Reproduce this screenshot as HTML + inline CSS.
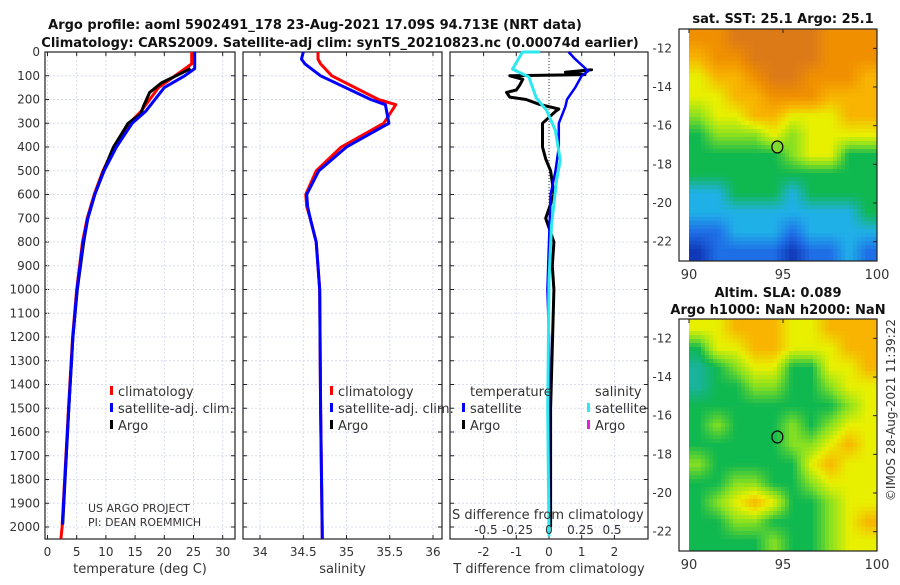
<!DOCTYPE html>
<html><head><meta charset="utf-8"><style>
body{margin:0;background:#fff}
svg text{font-family:"DejaVu Sans","Liberation Sans",sans-serif;fill:#333}
.b{font-weight:bold;fill:#111}
</style></head><body>
<svg id="s" width="900" height="580" xmlns="http://www.w3.org/2000/svg">
<text class="b" x="315" y="29" font-size="13" text-anchor="middle">Argo profile: aoml 5902491_178 23-Aug-2021 17.09S 94.713E (NRT data)</text>
<text class="b" x="340" y="47" font-size="13" text-anchor="middle">Climatology: CARS2009. Satellite-adj clim: synTS_20210823.nc (0.00074d earlier)</text>
<text class="b" x="783" y="23" font-size="13" text-anchor="middle">sat. SST: 25.1 Argo: 25.1</text>
<text class="b" x="778" y="297" font-size="13" text-anchor="middle">Altim. SLA: 0.089</text>
<text class="b" x="778" y="314" font-size="13" text-anchor="middle">Argo h1000: NaN h2000: NaN</text>
<text x="895" y="410" font-size="12" text-anchor="middle" transform="rotate(-90 895 410)">©IMOS 28-Aug-2021 11:39:22</text>
<g id="g"></g>
</svg>
<script>
// ---- data ----
const tempDepth=[0,50,80,150,250,300,400,500,600,700,800,1000,1200,1500,2000,2050];
const tempClim=[24.7,24.7,23,19,16,14,11.5,9.5,8,6.8,6,5,4.3,3.6,2.5,2.3];
const tempSatDepth=[0,70,100,150,250,300,400,500,600,700,800,1000,1200,1500,1990];
const tempSat=[25.2,25.2,23.5,20,16.8,14.5,11.8,9.7,8.1,6.9,6.1,5.05,4.35,3.65,2.55];
const tempArgoDepth=[70,100,130,170,230,260,300,400,500,600,700,800,1000,1200,1500,1990];
const tempArgo=[24.5,22,19.5,17.5,16.4,16,13.8,11.3,9.6,8.1,6.9,6.2,5.1,4.35,3.65,2.6];
const salDepth=[0,30,50,100,200,222,300,400,500,600,650,700,800,1000,1500,2050];
const salClim=[34.67,34.67,34.7,34.83,35.37,35.57,35.43,34.94,34.65,34.53,34.54,34.58,34.65,34.69,34.7,34.72];
const salSat=[34.5,34.48,34.52,34.7,35.28,35.45,35.49,35.0,34.68,34.54,34.55,34.58,34.65,34.69,34.7,34.72];
const dTDepth=[0,30,80,100,150,200,230,300,400,500,600,800,1000,1200,2000];
const dTSat=[0.6,0.8,1.2,1.0,0.8,0.55,0.5,0.3,0.3,0.2,0.05,0,-0.05,0,0];
const dTArgoDepth=[70,75,85,95,100,115,140,160,170,190,200,220,240,250,300,400,450,500,550,600,700,800,900,1000,1500,2000];
const dTArgo=[1.3,1.3,0.5,1.1,-1.2,-0.8,-0.9,-1.0,-1.3,-1.2,-0.7,-0.3,0.3,0.2,-0.2,-0.2,-0.1,0.05,0.1,0.15,-0.1,0.15,0.1,0.15,0.05,0.05];
const dSDepth=[0,0,72,105,194,245,329,456,540,730,962,1500,2040];
const dSSat=[-0.07,-0.21,-0.29,-0.16,-0.10,-0.02,0.05,0.09,0.06,0.02,0,-0.01,0];
const depthTicks=[0,100,200,300,400,500,600,700,800,900,1000,1100,1200,1300,1400,1500,1600,1700,1800,1900,2000];
const tTicks=[0,5,10,15,20,25,30];
const sTicks=[34,34.5,35,35.5,36];
const dTTicks=[-2,-1,0,1,2];
const dSTicks=[-0.5,-0.25,0,0.25,0.5];
const latTicks=[-12,-14,-16,-18,-20,-22];
const lonTicks=[90,95,100];
const sstGrid=[[7,7,8,8,8,8,8,7,7,7],[6,7,7,8,8,8,8,7,7,7],[5,6,6,7,8,8,7,7,7,6],[5,5,6,6,7,7,7,6,6,6],[4,5,5,6,6,5,5,5,6,6],[3,4,4,4,5,4,5,5,5,5],[3,3,3,3,3,4,5,5,3,3],[3,3,3,3,3,3,3,3,3,3],[2,2,3,3,3,2,3,3,3,3],[2,2,2,2,2,2,2,2,2,3],[1,1,2,2,2,1,2,2,2,2],[0,1,1,1,1,0,1,1,2,1]];
const slaGrid=[[5,5,6,6,6,5,5,6,6,6],[3,5,5,6,6,5,5,5,6,6],[2.5,3,4,5,5,3,3,5,5,6],[2.5,3,3,4,4,3,3,4,5,5],[3,3,3,3,3,3,3,3,4,5],[3,4,3,3,3,4,3,4,5,5],[3,3,3,3,3,4,4,5,6,5],[4,3,3,3,3,3,5,6,5,5],[3,3,4,4,3,3,4,5,5,5],[3,4,5,6,5,3,3,4,5,5],[3,3,4,4,3,3,3,4,5,6],[3,3,3,3,4,3,3,4,5,5]];
const floatLon=94.7, floatLat=-17.1;
// ---- drawing ----
const NS='http://www.w3.org/2000/svg',G=document.getElementById('g');
function el(t,a,p){const e=document.createElementNS(NS,t);for(const k in a)e.setAttribute(k,a[k]);(p||G).appendChild(e);return e;}
function txt(x,y,s,a,p){const e=el('text',Object.assign({x:x,y:y,'font-size':12},a||{}),p);e.textContent=s;return e;}
const yD=d=>52+d*0.2375;
function lin(d0,d1,r0,r1){return v=>r0+(v-d0)*(r1-r0)/(d1-d0);}
const panels=[
 {x0:45,x1:235,sx:lin(0,30,47.5,222.7),ticks:tTicks,label:'temperature (deg C)',name:'temperature'},
 {x0:243,x1:442,sx:lin(34,36,260,433),ticks:sTicks,label:'salinity',name:'salinity'},
 {x0:450,x1:648,sx:lin(0,1,549,581.7),ticks:dTTicks,label:'T difference from climatology',name:'difference'}];
const yBot=539;
panels.forEach((p,i)=>{
  const g=el('g',{});
  
  
  p.g=g;
  depthTicks.forEach(d=>{const l=el('line',{x1:p.x0,x2:p.x1,y1:yD(d),y2:yD(d),stroke:'#d8dcf0','stroke-dasharray':'2,2','stroke-width':1},g);
    
    el('line',{x1:p.x0,x2:p.x0+4,y1:yD(d),y2:yD(d),stroke:'#222'},g);el('line',{x1:p.x1-4,x2:p.x1,y1:yD(d),y2:yD(d),stroke:'#222'},g);
    if(i==0){const t=txt(40,yD(d)+4,String(d),{'text-anchor':'end'},g);}});
  p.ticks.forEach(v=>{const x=p.sx(v);
    const l=el('line',{x1:x,x2:x,y1:52,y2:yBot,stroke:'#d8dcf0','stroke-dasharray':'2,2'},g);
    
    el('line',{x1:x,x2:x,y1:yBot-4,y2:yBot,stroke:'#222'},g);el('line',{x1:x,x2:x,y1:52,y2:56,stroke:'#222'},g);
    const t=txt(x,556,String(v),{'text-anchor':'middle'},g);});
  const r=el('rect',{x:p.x0,y:52,width:p.x1-p.x0,height:yBot-52,fill:'none',stroke:'#222','stroke-width':1.2},g);
  
  const t=txt((p.x0+p.x1)/2,573,p.label,{'text-anchor':'middle','font-size':13},g);
  
});
function line(p,xs,ds,sx,col,w,name){
  const pts=xs.map((v,i)=>sx(v).toFixed(1)+','+yD(ds[i]).toFixed(1)).join(' ');
  const e=el('polyline',{points:pts,fill:'none',stroke:col,'stroke-width':w,'stroke-linejoin':'round'},p.g);
  }
const P=panels;
line(P[0],tempClim,tempDepth,P[0].sx,'#f00',3,'temp-climatology-line');
line(P[0],tempArgo,tempArgoDepth,P[0].sx,'#000',3,'temp-argo-line');
line(P[0],tempSat,tempSatDepth,P[0].sx,'#00f',3,'temp-satellite-line');
line(P[1],salClim,salDepth,P[1].sx,'#f00',3,'sal-climatology-line');
line(P[1],salSat,salDepth,P[1].sx,'#00f',3,'sal-satellite-line');
const sxS=lin(0,1,549,675);
el('line',{x1:549,x2:549,y1:52,y2:yBot,stroke:'#333','stroke-dasharray':'1,2'},P[2].g);
line(P[2],dTArgo,dTArgoDepth,P[2].sx,'#000',3,'dT-argo-line');
line(P[2],dTSat,dTDepth,P[2].sx,'#00f',2.5,'dT-satellite-line');
line(P[2],dSSat,dSDepth,sxS,'#2ee8f0',3,'dS-satellite-line');
dSTicks.forEach(v=>{const t=txt(sxS(v),534,String(v),{'text-anchor':'middle'},P[2].g);});
{const t=txt(452,519,'S difference from climatology',{'font-size':13},P[2].g);}
function leg(p,x,y,col,label,name){
  const r=el('rect',{x:x,y:y-10,width:3,height:9,fill:col},p.g);
  const t=txt(x+8,y,label,{'font-size':13,fill:'#111'},p.g);}
[[0,110],[1,330]].forEach(([i,x])=>{leg(P[i],x,396,'#f00','climatology','legend-climatology');leg(P[i],x,413,'#00f','satellite-adj. clim.','legend-satellite');leg(P[i],x,430,'#000','Argo','legend-argo');});
{const t=txt(470,396,'temperature',{'font-size':13,fill:'#111'},P[2].g);
 const t2=txt(595,396,'salinity',{'font-size':13,fill:'#111'},P[2].g);}
leg(P[2],462,413,'#00f','satellite','legend-T-satellite');leg(P[2],462,430,'#000','Argo','legend-T-argo');
leg(P[2],587,413,'#2ee8f0','satellite','legend-S-satellite');leg(P[2],587,430,'#e020e0','Argo','legend-S-argo');
{const t=txt(88,512,'US ARGO PROJECT',{'font-size':11,fill:'#111'});
 const t2=txt(88,526,'PI: DEAN ROEMMICH',{'font-size':11,fill:'#111'});}
// maps
const pal=[[16,56,184],[30,110,230],[32,176,232],[16,184,80],[136,224,32],[232,240,0],[248,180,0],[240,144,0],[220,122,24]];
function col(v){v=Math.max(0,Math.min(8,v));const i=Math.min(7,Math.floor(v)),f=v-i;const a=pal[i],b=pal[i+1];
  return 'rgb('+a.map((c,k)=>Math.round(c+(b[k]-c)*f)).join(',')+')';}
function sample(grid,r,c){const R=grid.length,C=grid[0].length;r=Math.max(0,Math.min(R-1,r));c=Math.max(0,Math.min(C-1,c));
  const r0=Math.floor(r),c0=Math.floor(c),r1=Math.min(R-1,r0+1),c1=Math.min(C-1,c0+1),fr=r-r0,fc=c-c0;
  return (grid[r0][c0]*(1-fc)+grid[r0][c1]*fc)*(1-fr)+(grid[r1][c0]*(1-fc)+grid[r1][c1]*fc)*fr;}
function map(grid,top,name){
  const lx=lin(90,100,689,877),ly=lin(-11,-23,top,top+232);
  const g=el('g',{});
  const W=lx(100)-lx(90),H=ly(-23)-ly(-11),px=4,nc=Math.ceil(W/px),nr=Math.ceil(H/px);
  const R=grid.length,C=grid[0].length;
  for(let i=0;i<nr;i++)for(let j=0;j<nc;j++){
    const v=sample(grid,(i+0.5)*px/H*R-0.5,(j+0.5)*px/W*C-0.5);
    const e=el('rect',{x:(lx(90)+j*px).toFixed(1),y:(top+i*px).toFixed(1),width:Math.min(px+0.5,W-j*px),height:Math.min(px+0.5,H-i*px),fill:col(v)},g);
    }
  const fr=el('rect',{x:679,y:top,width:198,height:232,fill:'none',stroke:'#222','stroke-width':1.2},g);
  
  latTicks.forEach(v=>{el('line',{x1:873,x2:877,y1:ly(v),y2:ly(v),stroke:'#222'},g);const t=txt(672,ly(v)+4,String(v),{'text-anchor':'end'},g);});
  lonTicks.forEach(v=>{el('line',{x1:lx(v),x2:lx(v),y1:top,y2:top+4,stroke:'#222'},g);const t=txt(lx(v),top+250,String(v),{'text-anchor':'middle','font-size':13},g);});
  const c=el('ellipse',{cx:lx(floatLon),cy:ly(floatLat),rx:5.5,ry:6,fill:name=='sst-map'?'#80d830':'none',stroke:'#000','stroke-width':1.2},g);
  
}
map(sstGrid,29,'sst-map');map(slaGrid,319,'sla-map');
</script>
</body></html>
